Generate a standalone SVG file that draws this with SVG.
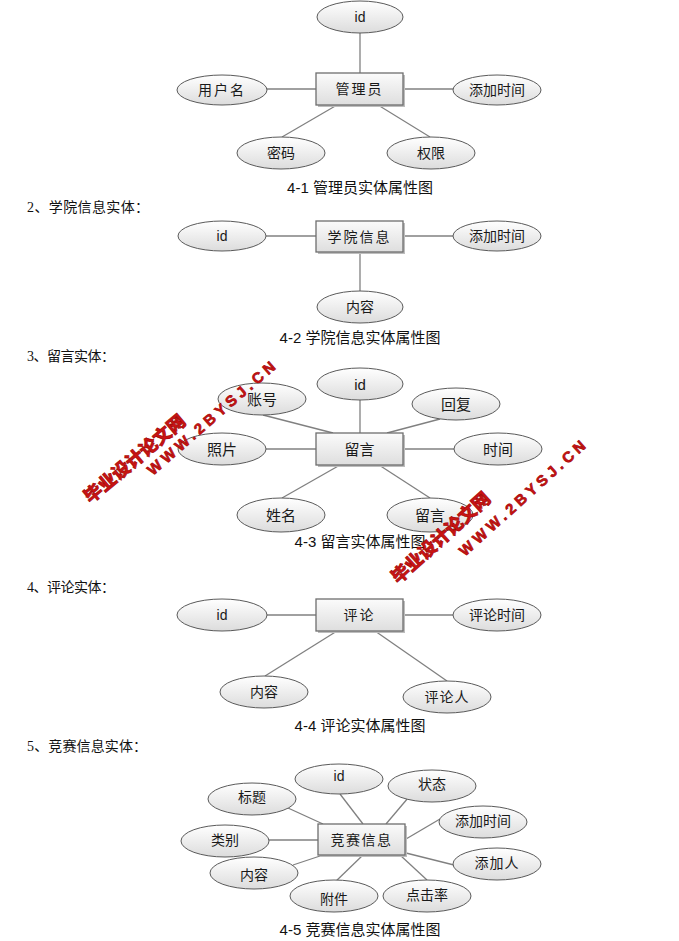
<svg xmlns="http://www.w3.org/2000/svg" width="679" height="941" viewBox="0 0 679 941">
<defs>
<linearGradient id="eg" x1="0" y1="0" x2="0" y2="1">
<stop offset="0" stop-color="#ffffff"/>
<stop offset="1" stop-color="#dcdcdc"/>
</linearGradient>
<linearGradient id="rg" x1="0" y1="0" x2="0" y2="1">
<stop offset="0" stop-color="#fbfbfb"/>
<stop offset="1" stop-color="#dedede"/>
</linearGradient>
<style>
.e{fill:url(#eg);stroke:#5a5a5a;stroke-width:1}
.r{fill:url(#rg);stroke:#6e6e6e;stroke-width:1.3}
.sh{fill:#bdbdbd}
.c line{stroke:#808080;stroke-width:1.3}
.t{font-family:"Liberation Sans","Noto Sans CJK SC",sans-serif;font-size:14px;fill:#1a1a1a;text-anchor:middle;dominant-baseline:central}
.t3{font-size:15px}
.cap{font-family:"Liberation Sans","Noto Sans CJK SC",sans-serif;font-size:15px;fill:#111;text-anchor:middle}
.lab{font-family:"Liberation Serif","Noto Sans CJK SC",serif;font-size:14px;fill:#111}
.wm{font-family:"Liberation Sans","Noto Sans CJK SC",sans-serif;font-weight:900;fill:#c81414;stroke:#a00000;stroke-width:0.6;text-anchor:middle;dominant-baseline:central}
</style>
</defs>
<rect width="679" height="941" fill="#ffffff"/>

<g id="connectors" class="c">
<line x1="360" y1="33" x2="360" y2="73"/>
<line x1="267" y1="89" x2="316" y2="89"/>
<line x1="403" y1="89" x2="453" y2="89"/>
<line x1="282" y1="137" x2="337" y2="105"/>
<line x1="378" y1="105" x2="430" y2="137"/>

<line x1="266" y1="236" x2="316" y2="236"/>
<line x1="403" y1="236" x2="453" y2="236"/>
<line x1="360" y1="252" x2="360" y2="291"/>

<line x1="360" y1="400" x2="360" y2="433"/>
<line x1="263" y1="415" x2="333" y2="433"/>
<line x1="387" y1="433" x2="440" y2="419"/>
<line x1="266" y1="449" x2="316" y2="449"/>
<line x1="403" y1="449" x2="454" y2="449"/>
<line x1="282" y1="498" x2="340" y2="465"/>
<line x1="379" y1="465" x2="430" y2="498"/>

<line x1="267" y1="615" x2="316" y2="615"/>
<line x1="403" y1="615" x2="453" y2="615"/>
<line x1="265" y1="676" x2="337" y2="631"/>
<line x1="375" y1="631" x2="447" y2="681"/>

<line x1="340" y1="794" x2="363" y2="824"/>
<line x1="408" y1="798" x2="386" y2="824"/>
<line x1="288" y1="808" x2="323" y2="824"/>
<line x1="440" y1="819" x2="406" y2="839"/>
<line x1="269" y1="840" x2="318" y2="840"/>
<line x1="454" y1="865" x2="406" y2="853"/>
<line x1="293" y1="865" x2="320" y2="856"/>
<line x1="333" y1="884" x2="363" y2="855"/>
<line x1="427" y1="880" x2="400" y2="855"/>
</g>

<!-- Section 1 -->
<g id="admin">
<rect class="sh" x="318" y="75" width="87" height="32"/>
<rect class="r" x="316" y="73" width="87" height="32"/>
<text class="t" x="359.5" y="89" letter-spacing="2">管理员</text>
</g>
<g id="admin-id"><ellipse class="e" cx="360" cy="17" rx="43" ry="16"/><text class="t" x="360" y="17">id</text></g>
<g id="admin-username"><ellipse class="e" cx="222" cy="90" rx="45" ry="15"/><text class="t" x="222" y="90" letter-spacing="2">用户名</text></g>
<g id="admin-addtime"><ellipse class="e" cx="497" cy="90" rx="44" ry="15"/><text class="t" x="497" y="90">添加时间</text></g>
<g id="admin-password"><ellipse class="e" cx="281" cy="153" rx="44" ry="16"/><text class="t" x="281" y="153">密码</text></g>
<g id="admin-permission"><ellipse class="e" cx="431" cy="153" rx="44" ry="16"/><text class="t" x="431" y="153">权限</text></g>
<text class="cap" x="360" y="193">4-1 管理员实体属性图</text>

<text class="lab" x="27" y="212" textLength="122" lengthAdjust="spacing">2、学院信息实体：</text>

<!-- Section 2 -->
<g id="college">
<rect class="sh" x="318" y="223" width="87" height="31"/>
<rect class="r" x="316" y="221" width="87" height="31"/>
<text class="t" x="359.5" y="236.5" letter-spacing="2">学院信息</text>
</g>
<g id="college-id"><ellipse class="e" cx="222" cy="236" rx="44" ry="15"/><text class="t" x="222" y="236">id</text></g>
<g id="college-addtime"><ellipse class="e" cx="497" cy="236" rx="44" ry="15"/><text class="t" x="497" y="236">添加时间</text></g>
<g id="college-content"><ellipse class="e" cx="360" cy="307" rx="43" ry="16"/><text class="t" x="360" y="307">内容</text></g>
<text class="cap" x="360" y="343">4-2 学院信息实体属性图</text>

<text class="lab" x="27" y="361" textLength="88" lengthAdjust="spacing">3、留言实体：</text>

<!-- Section 3 -->
<g id="message">
<rect class="sh" x="318" y="435" width="87" height="32"/>
<rect class="r" x="316" y="433" width="87" height="32"/>
<text class="t t3" x="359.5" y="449">留言</text>
</g>
<g id="msg-id"><ellipse class="e" cx="360" cy="384" rx="43" ry="16"/><text class="t t3" x="360" y="384">id</text></g>
<g id="msg-account"><ellipse class="e" cx="262" cy="399" rx="44" ry="16"/><text class="t t3" x="262" y="399">账号</text></g>
<g id="msg-reply"><ellipse class="e" cx="456" cy="404" rx="44" ry="16"/><text class="t t3" x="456" y="404">回复</text></g>
<g id="msg-photo"><ellipse class="e" cx="222" cy="449" rx="44" ry="16"/><text class="t t3" x="222" y="449">照片</text></g>
<g id="msg-time"><ellipse class="e" cx="498" cy="449" rx="44" ry="16"/><text class="t t3" x="498" y="449">时间</text></g>
<g id="msg-name"><ellipse class="e" cx="281" cy="515" rx="44" ry="17"/><text class="t t3" x="281" y="515">姓名</text></g>
<g id="msg-text"><ellipse class="e" cx="430" cy="515" rx="43" ry="17"/><text class="t t3" x="430" y="515">留言</text></g>
<text class="cap" x="360" y="547">4-3 留言实体属性图</text>

<text class="lab" x="27" y="592" textLength="88" lengthAdjust="spacing">4、评论实体：</text>

<!-- Section 4 -->
<g id="comment">
<rect class="sh" x="318" y="601" width="87" height="32"/>
<rect class="r" x="316" y="599" width="87" height="32"/>
<text class="t" x="359.5" y="615" letter-spacing="2">评论</text>
</g>
<g id="cmt-id"><ellipse class="e" cx="222" cy="615" rx="45" ry="16"/><text class="t" x="222" y="615">id</text></g>
<g id="cmt-time"><ellipse class="e" cx="497" cy="615" rx="44" ry="16"/><text class="t" x="497" y="615">评论时间</text></g>
<g id="cmt-content"><ellipse class="e" cx="264" cy="692" rx="44" ry="16"/><text class="t" x="264" y="692">内容</text></g>
<g id="cmt-user"><ellipse class="e" cx="447" cy="697" rx="44" ry="16"/><text class="t" x="447" y="697" letter-spacing="1">评论人</text></g>
<text class="cap" x="360" y="731">4-4 评论实体属性图</text>

<text class="lab" x="27" y="751" textLength="120" lengthAdjust="spacing">5、竞赛信息实体：</text>

<!-- Section 5 -->
<g id="contest">
<rect class="sh" x="320" y="826" width="87" height="31"/>
<rect class="r" x="318" y="824" width="87" height="31"/>
<text class="t" x="361.5" y="839.5" letter-spacing="1.5">竞赛信息</text>
</g>
<g id="ct-id"><ellipse class="e" cx="339" cy="779" rx="44" ry="15"/><text class="t" x="339" y="776">id</text></g>
<g id="ct-status"><ellipse class="e" cx="432" cy="786" rx="44" ry="16"/><text class="t" x="432" y="784">状态</text></g>
<g id="ct-title"><ellipse class="e" cx="252" cy="799" rx="44" ry="16"/><text class="t" x="252" y="797">标题</text></g>
<g id="ct-addtime"><ellipse class="e" cx="483" cy="822" rx="44" ry="16"/><text class="t" x="483" y="821">添加时间</text></g>
<g id="ct-category"><ellipse class="e" cx="225" cy="841" rx="44" ry="16"/><text class="t" x="225" y="840">类别</text></g>
<g id="ct-adder"><ellipse class="e" cx="497" cy="864" rx="44" ry="16"/><text class="t" x="497" y="863" letter-spacing="1">添加人</text></g>
<g id="ct-content"><ellipse class="e" cx="254" cy="873" rx="44" ry="16"/><text class="t" x="254" y="875">内容</text></g>
<g id="ct-attach"><ellipse class="e" cx="334" cy="896" rx="44" ry="16"/><text class="t" x="334" y="899">附件</text></g>
<g id="ct-clicks"><ellipse class="e" cx="427" cy="896" rx="44" ry="16"/><text class="t" x="427" y="895">点击率</text></g>
<text class="cap" x="360" y="935">4-5 竞赛信息实体属性图</text>

<!-- watermarks -->
<g id="watermark">
<text class="wm" font-size="18" transform="translate(135,459) rotate(-40)" textLength="126" lengthAdjust="spacing">毕业设计论文网</text>
<text class="wm" font-size="15" transform="translate(211,418) rotate(-41)" textLength="164" lengthAdjust="spacing">WWW.2BYSJ.CN</text>
<text class="wm" font-size="18" transform="translate(441,538) rotate(-42)" textLength="126" lengthAdjust="spacing">毕业设计论文网</text>
<text class="wm" font-size="15" transform="translate(522,498) rotate(-42)" textLength="164" lengthAdjust="spacing">WWW.2BYSJ.CN</text>
</g>
</svg>
